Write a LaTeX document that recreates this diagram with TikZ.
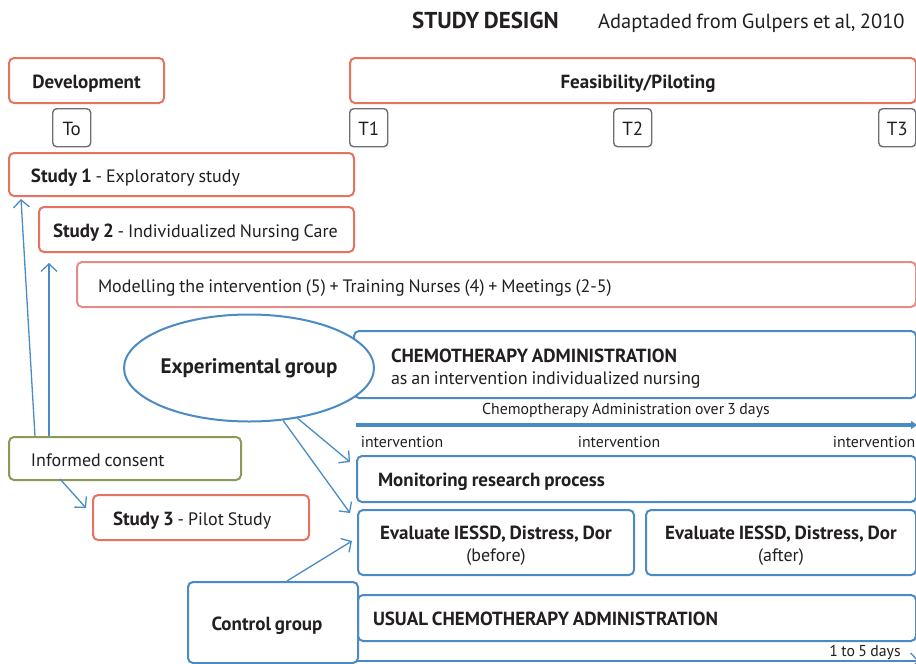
\documentclass[tikz,border=0pt]{standalone}
\usepackage{fontspec}
\setmainfont{PT Sans}[WordSpace=0.8]
\usetikzlibrary{arrows.meta,shapes.geometric}
\definecolor{ink}{HTML}{231F20}
\definecolor{tred}{HTML}{E5735F}
\definecolor{lred}{HTML}{E58C88}
\definecolor{tblue}{HTML}{4A8BC5}
\definecolor{tgray}{HTML}{6D6E70}
\definecolor{tgreen}{HTML}{8A9A5B}
\newcommand{\fsreg}{\fontsize{18}{22}\selectfont}
\newcommand{\fsbold}{\bfseries\fontsize{19}{22}\selectfont}
\newcommand{\bt}[1]{{\bfseries\fontsize{19}{22}\selectfont #1}}
\newcommand{\fssmall}{\fontsize{15.8}{18}\selectfont}
\newcommand{\lft}[3]{\makebox[#1][l]{\hspace*{#2}#3}}
\begin{document}
\begin{tikzpicture}[x=1pt,y=-1pt,text=ink,
  box/.style={line width=2pt,rounded corners=5pt,fill=white,inner ysep=0pt,anchor=north west},
  one/.style={inner xsep=0pt,text height=19pt,text depth=4pt},
  redbox/.style={box,draw=tred},
  bluebox/.style={box,draw=tblue},
  tbox/.style={draw=tgray,line width=1.4pt,rounded corners=4pt,inner sep=0pt,anchor=north west,minimum width=38pt,minimum height=38pt,font=\fontsize{19}{22}\selectfont,text height=19pt,text depth=4pt},
  arr/.style={draw=tblue,line width=1.3pt,-{Straight Barb[length=7.5pt,width=16pt]}}]
\useasboundingbox (0,0) rectangle (916,664);
% title
\node[anchor=base west,inner sep=0pt,font=\bfseries\fontsize{23}{26}\selectfont] (title) at (412,28) {STUDY DESIGN};
\node[anchor=base west,inner sep=0pt,font=\fontsize{20.5}{24}\selectfont] (source) at (598,28) {Adaptaded from Gulpers et al, 2010};
% phases
\node[redbox,one,minimum width=155pt,minimum height=45pt,font=\fsbold] (dev) at (8,57) {Development};
\node[redbox,one,minimum width=566pt,minimum height=45pt,font=\fsbold] (feas) at (349,57) {\hspace*{10pt}Feasibility/Piloting};
% time points
\node[tbox] (t0) at (52,108) {To};
\node[tbox] (t1) at (349,108) {T1};
\node[tbox] (t2) at (613,108) {T2};
\node[tbox,minimum width=37pt] (t3) at (878,108) {T3};
% studies
\node[redbox,one,minimum height=43pt,font=\fsreg] (s1) at (8,152) {\lft{345pt}{22pt}{\bt{Study 1} - Exploratory study}};
\node[redbox,one,minimum height=45pt,font=\fsreg] (s2) at (38,206) {\lft{315pt}{14pt}{\bt{Study 2} - Individualized Nursing Care}};
\node[box,one,draw=lred,minimum height=45pt,font=\fsreg] (model) at (76,261) {\lft{839pt}{21pt}{Modelling the intervention (5) + Training Nurses (4) + Meetings (2-5)}};
% experimental arm
\node[bluebox,inner sep=0pt,font=\fsreg] (chemo) at (353,330) {\parbox[c][67pt][t]{562pt}{\vspace*{17.5pt}\leftskip=37pt\bt{CHEMOTHERAPY ADMINISTRATION}\\as an intervention individualized nursing\par}};
\node[ellipse,draw=tblue,line width=2pt,fill=white,minimum width=242pt,minimum height=107pt,inner sep=0pt,font=\bfseries\fontsize{21}{24}\selectfont] (exp) at (249,368) {Experimental group};
\coordinate (c3s) at (356,425);
\coordinate (c3e) at (917,425);
\draw[draw=tblue,line width=3.5pt,-{Triangle[length=6pt,width=8pt]}] (c3s) -- (c3e);
\node[font=\fssmall,inner sep=0pt] (c3lab) at (626,410) {Chemoptherapy Administration over 3 days};
\node[font=\fssmall,inner sep=0pt] (iv1) at (402,442) {intervention};
\node[font=\fssmall,inner sep=0pt] (iv2) at (619,442) {intervention};
\node[font=\fssmall,inner sep=0pt] (iv3) at (874,442) {intervention};
\node[bluebox,one,minimum height=46pt,font=\fsbold] (mon) at (356,455) {\lft{559pt}{21pt}{Monitoring research process}};
\node[bluebox,inner sep=0pt,font=\fsreg] (ev1) at (357,509) {\parbox[c][65pt][t]{276pt}{\centering\vspace*{16pt}\bt{Evaluate IESSD, Distress, Dor}\\(before)\par}};
\node[bluebox,inner sep=0pt,font=\fsreg] (ev2) at (645,509) {\parbox[c][65pt][t]{270pt}{\centering\vspace*{16pt}\bt{Evaluate IESSD, Distress, Dor}\\(after)\par}};
% control arm
\node[bluebox,one,minimum height=46pt,font=\fsbold] (usual) at (357,594) {\lft{558pt}{15pt}{USUAL CHEMOTHERAPY ADMINISTRATION}};
\coordinate (d5s) at (357,661);
\coordinate (d5e) at (919,661);
\draw[arr] (d5s) -- (d5e);
\node[font=\fssmall,inner sep=0pt] (d5lab) at (865,652) {1 to 5 days};
\node[bluebox,one,minimum width=170pt,minimum height=81pt,font=\fsbold] (ctrl) at (187,581) {\hspace*{-12pt}Control group};
% consent and study 3
\node[box,one,draw=tgreen,minimum height=43pt,font=\fsreg] (cons) at (8,436) {\lft{232pt}{22pt}{Informed consent}};
\node[redbox,one,minimum height=45pt,font=\fsreg] (s3) at (92,494) {\lft{216pt}{20pt}{\bt{Study 3} - Pilot Study}};
% connectors
\coordinate (a1s) at (35,436);
\coordinate (a1e) at (21,199);
\coordinate (a2s) at (49,436);
\coordinate (a2e) at (49,263);
\coordinate (a3s) at (60,479);
\coordinate (a3e) at (86,508);
\draw[arr] (a1s) -- (a1e);
\draw[arr] (a2s) -- (a2e);
\draw[arr] (a3s) -- (a3e);
\coordinate (m1) at (350,462);
\coordinate (m2) at (350,513);
\coordinate (m3) at (352,541);
\coordinate (cs) at (287,581);
\draw[arr] (exp.-46) -- (m1);
\draw[arr] (exp.-57) -- (m2);
\draw[arr] (cs) -- (m3);
\end{tikzpicture}
\end{document}
